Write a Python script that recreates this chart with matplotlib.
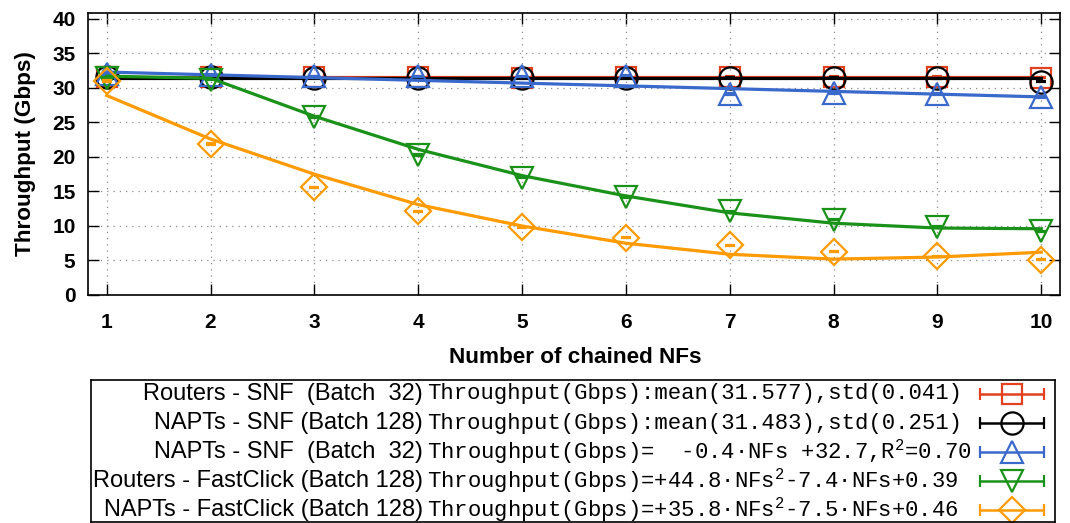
import numpy as np
import matplotlib
matplotlib.use("Agg")
import matplotlib.pyplot as plt

# values
nfs = [1, 2, 3, 4, 5, 6, 7, 8, 9, 10]

routers_snf32 = [31.6, 31.6, 31.6, 31.6, 31.5, 31.6, 31.6, 31.6, 31.6, 31.5]
napts_snf128 = [31.6, 31.6, 31.5, 31.5, 31.5, 31.5, 31.5, 31.5, 31.4, 30.9]
napts_snf32 = [32.0, 31.9, 31.7, 31.7, 31.7, 31.8, 29.1, 29.2, 29.1, 28.7]
routers_fc128 = [31.5, 31.2, 25.8, 20.3, 17.0, 14.2, 12.1, 10.9, 9.9, 9.2]
napts_fc128 = [31.0, 21.9, 15.6, 12.1, 9.8, 8.3, 7.2, 6.3, 5.6, 5.1]

errs = [0.1, 0.1, 0.1, 0.1, 0.1, 0.1, 0.1, 0.1, 0.1, 0.1]

# fitted lines (as they appear in the chart)
fit_routers_snf32 = [31.577] * 10
fit_napts_snf128 = [31.483] * 10
fit_napts_snf32 = [32.3, 31.9, 31.5, 31.1, 30.7, 30.3, 29.9, 29.5, 29.1, 28.7]
fit_routers_fc128 = [31.7, 31.4, 25.9, 21.1, 17.3, 14.35, 11.9, 10.4, 9.7, 9.6]
fit_napts_fc128 = [28.9, 22.6, 17.5, 13.1, 10.0, 7.5, 5.9, 5.2, 5.5, 6.2]

names = ["Routers - SNF  (Batch  32)",
         "NAPTs - SNF (Batch 128)",
         "NAPTs - SNF  (Batch  32)",
         "Routers - FastClick (Batch 128)",
         "NAPTs - FastClick (Batch 128)"]
fit_texts = ["Throughput(Gbps):mean(31.577),std(0.041)",
             "Throughput(Gbps):mean(31.483),std(0.251)",
             "Throughput(Gbps)=  -0.4\u00b7NFs +32.7,R$^{2}$=0.70",
             "Throughput(Gbps)=+44.8\u00b7NFs$^{2}$-7.4\u00b7NFs+0.39",
             "Throughput(Gbps)=+35.8\u00b7NFs$^{2}$-7.5\u00b7NFs+0.46"]

colors = ['#e2401f', '#000000', '#3a69cc', '#1a921a', '#ff9a00']
markers = ['s', 'o', '^', 'v', 'D']
msizes = [15, 16, 16, 16, 13]

series = [routers_snf32, napts_snf128, napts_snf32, routers_fc128, napts_fc128]
fits = [fit_routers_snf32, fit_napts_snf128, fit_napts_snf32, fit_routers_fc128, fit_napts_fc128]

plt.rcParams['font.family'] = ['Liberation Sans', 'DejaVu Sans']
plt.rcParams['mathtext.fontset'] = 'custom'
plt.rcParams['mathtext.rm'] = 'Liberation Mono'

fig = plt.figure(figsize=(10.7, 5.23), dpi=100)
W, H = 1070.0, 523.0
ax = fig.add_axes([88/W, 1 - 295/H, (1060-88)/W, (295-12.7)/H])

for i in range(5):
    ax.errorbar(nfs, series[i], yerr=errs, fmt=markers[i], mfc='none', mec=colors[i],
                ms=msizes[i], mew=1.6, ecolor=colors[i], elinewidth=1.6,
                capsize=3.6, capthick=1.6, zorder=3+i)
    ax.plot(nfs, fits[i], color=colors[i], lw=2.3, zorder=3+i)

ax.set_xlim(0.82, 10.18)
ax.set_ylim(0, 40.9)
ax.set_xticks(nfs)
ax.set_yticks(range(0, 41, 5))
ax.grid(True, linestyle=(0, (1, 4)), color='#8a8a8a', lw=0.9)
ax.tick_params(direction='in', length=8, width=1, top=True, right=True,
               labelsize=15)
ax.tick_params(axis='x', pad=13)
ax.tick_params(axis='y', pad=9)
for lab in ax.get_xticklabels() + ax.get_yticklabels():
    lab.set_fontweight('bold')
for sp in ax.spines.values():
    sp.set_linewidth(1.2)

fig.text(26/W, 1 - 154/H, "Throughput (Gbps)", rotation=90, ha='center', va='center',
         fontsize=16.2, fontweight='bold')
fig.text(575/W, 1 - 363/H, "Number of chained NFs", ha='center', va='baseline',
         fontsize=16.2, fontweight='bold')

# legend box below the plot
lg = fig.add_axes([91/W, 1 - 521.7/H, (1055-91)/W, (521.7-380)/H])
lg.set_xlim(91, 1055)
lg.set_ylim(521.7, 380)
lg.set_xticks([])
lg.set_yticks([])
for sp in lg.spines.values():
    sp.set_linewidth(1.2)

rows = [394, 423, 452, 481, 510]
for i in range(5):
    lg.text(423, rows[i], names[i], ha='right', va='center', fontsize=17)
    lg.text(427, rows[i], fit_texts[i], ha='left', va='center', fontsize=16,
            family=['Liberation Mono', 'DejaVu Sans Mono'])
    lg.errorbar([1012], [rows[i]], xerr=[[32], [32]], fmt=markers[i], mfc='none',
                mec=colors[i], ms=msizes[i], mew=1.6, ecolor=colors[i],
                elinewidth=1.8, capsize=4.2, capthick=1.8)

fig.savefig("out.png", dpi=100)
